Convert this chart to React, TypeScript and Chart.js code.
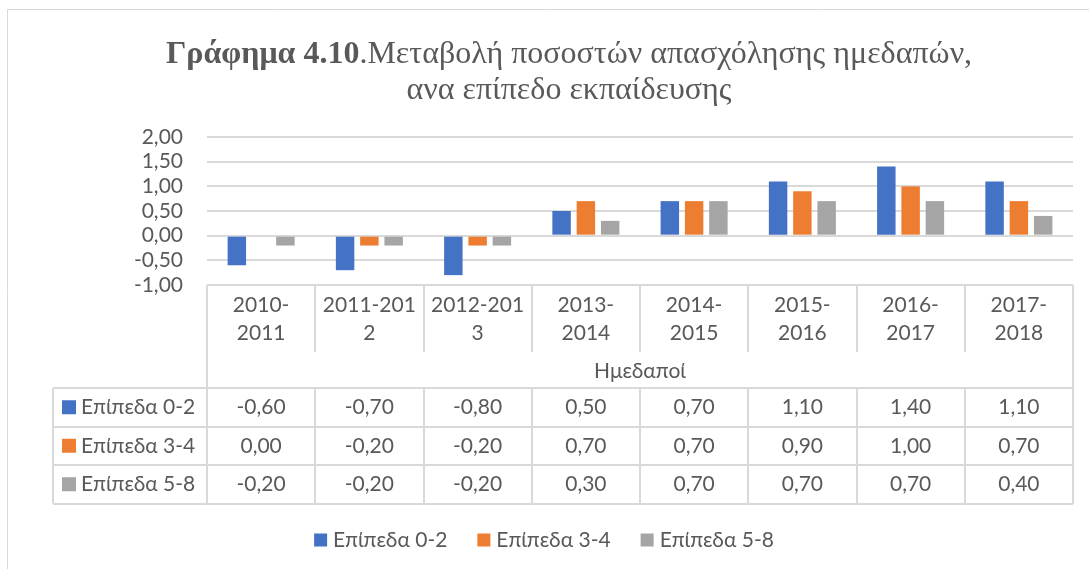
import { useEffect, useRef } from "react";
import { Chart, registerables } from "chart.js";

Chart.register(...registerables);

const categories: string[][] = [
  ["2010-", "2011"],
  ["2011-201", "2"],
  ["2012-201", "3"],
  ["2013-", "2014"],
  ["2014-", "2015"],
  ["2015-", "2016"],
  ["2016-", "2017"],
  ["2017-", "2018"],
];
const groupLabel = "Ημεδαποί";
const seriesNames = ["Επίπεδα 0-2", "Επίπεδα 3-4", "Επίπεδα 5-8"];
const level02 = [-0.6, -0.7, -0.8, 0.5, 0.7, 1.1, 1.4, 1.1];
const level34 = [0.0, -0.2, -0.2, 0.7, 0.7, 0.9, 1.0, 0.7];
const level58 = [-0.2, -0.2, -0.2, 0.3, 0.7, 0.7, 0.7, 0.4];
const seriesColors = ["#4472C4", "#ED7D31", "#A5A5A5"];
const yTickValues = [-1, -0.5, 0, 0.5, 1, 1.5, 2];
const titleBold = "Γράφημα 4.10";
const titleRest = ".Μεταβολή ποσοστών απασχόλησης ημεδαπών,";
const titleLine2 = "ανα επίπεδο εκπαίδευσης";

const TEXT = "#595959";
const GRID = "#D9D9D9";
const SANS = "Lato, 'Noto Sans', sans-serif";
const SERIF = "'Liberation Serif', 'DejaVu Serif', serif";
const SANS_SIZE = 21;

const fmt = (v: number) => v.toFixed(2).replace(".", ",");

const decorPlugin = {
  id: "decor",
  afterDraw(chart: any) {
    const ctx: CanvasRenderingContext2D = chart.ctx;
    const x = chart.scales.x;
    const y = chart.scales.y;
    const n = categories.length;
    const colW = (x.right - x.left) / n;
    const left = x.left;
    const right = x.right;
    const top = y.getPixelForValue(yTickValues[0]);
    const headerBottom = top + 67;
    const groupBottom = top + 103;
    const rowH = 38.5;
    const labelLeft = 53;
    const allSeries = [level02, level34, level58];

    ctx.save();
    // outer frame
    ctx.strokeStyle = GRID;
    ctx.lineWidth = 1;
    ctx.beginPath();
    ctx.moveTo(7.5, 569);
    ctx.lineTo(7.5, 9.5);
    ctx.lineTo(1089, 9.5);
    ctx.stroke();

    // title
    ctx.fillStyle = TEXT;
    ctx.textBaseline = "alphabetic";
    ctx.textAlign = "left";
    const fBold = `bold 32px ${SERIF}`;
    const fReg = `32px ${SERIF}`;
    ctx.font = fBold;
    const wb = ctx.measureText(titleBold).width;
    ctx.font = fReg;
    const wr = ctx.measureText(titleRest).width;
    const cx = 569;
    const sx = cx - (wb + wr) / 2;
    ctx.font = fBold;
    ctx.fillText(titleBold, sx, 63);
    ctx.font = fReg;
    ctx.fillText(titleRest, sx + wb, 63);
    ctx.textAlign = "center";
    ctx.fillText(titleLine2, cx, 99);

    // table lines
    ctx.strokeStyle = GRID;
    ctx.lineWidth = 2;
    ctx.beginPath();
    for (let i = 0; i <= n; i++) {
      const px = Math.round(x.getPixelForValue(i) - colW / 2);
      ctx.moveTo(px, top);
      ctx.lineTo(px, headerBottom);
      ctx.moveTo(px, groupBottom);
      ctx.lineTo(px, groupBottom + rowH * 3);
    }
    ctx.moveTo(Math.round(left), headerBottom);
    ctx.lineTo(Math.round(left), groupBottom);
    ctx.moveTo(Math.round(right), headerBottom);
    ctx.lineTo(Math.round(right), groupBottom);
    for (let r = 0; r <= 3; r++) {
      const py = Math.round(groupBottom + rowH * r);
      ctx.moveTo(labelLeft, py);
      ctx.lineTo(right, py);
    }
    ctx.moveTo(labelLeft, groupBottom);
    ctx.lineTo(labelLeft, groupBottom + rowH * 3);
    ctx.stroke();

    // header text
    ctx.fillStyle = TEXT;
    ctx.font = `${SANS_SIZE}px ${SANS}`;
    ctx.textAlign = "center";
    ctx.textBaseline = "middle";
    categories.forEach((lines, i) => {
      const px = x.getPixelForValue(i);
      ctx.fillText(lines[0], px, top + 20);
      ctx.fillText(lines[1], px, top + 48);
    });
    ctx.fillText(groupLabel, (left + right) / 2, (headerBottom + groupBottom) / 2 + 1);

    // rows
    allSeries.forEach((vals, r) => {
      const cy = groupBottom + rowH * r + rowH / 2;
      ctx.fillStyle = seriesColors[r];
      ctx.fillRect(62, cy - 7, 14, 14);
      ctx.fillStyle = TEXT;
      ctx.textAlign = "left";
      ctx.fillText(seriesNames[r], 81, cy);
      ctx.textAlign = "center";
      vals.forEach((v, i) => {
        ctx.fillText(fmt(v), x.getPixelForValue(i), cy);
      });
    });

    // legend
    const ly = 540;
    const sq = 13;
    const gapIn = 6;
    const gapOut = 30;
    const widths = seriesNames.map((s) => ctx.measureText(s).width);
    const total = widths.reduce((a, w) => a + sq + gapIn + w, 0) + gapOut * (seriesNames.length - 1);
    let lx = 544 - total / 2;
    ctx.textAlign = "left";
    seriesNames.forEach((s, i) => {
      ctx.fillStyle = seriesColors[i];
      ctx.fillRect(lx, ly - sq / 2, sq, sq);
      ctx.fillStyle = TEXT;
      ctx.fillText(s, lx + sq + gapIn, ly);
      lx += sq + gapIn + widths[i] + gapOut;
    });
    ctx.restore();
  },
};

export default function App() {
  const ref = useRef<HTMLCanvasElement | null>(null);
  useEffect(() => {
    if (!ref.current) return;
    const chart = new Chart(ref.current, {
      type: "bar",
      data: {
        labels: categories.map((c) => c.join("")),
        datasets: [level02, level34, level58].map((d, i) => ({
          label: seriesNames[i],
          data: d,
          backgroundColor: seriesColors[i],
          borderWidth: 0,
          categoryPercentage: 0.673,
          barPercentage: 0.76,
        })),
      },
      options: {
        responsive: false,
        animation: false,
        devicePixelRatio: 1,
        layout: { padding: { top: 137, left: 0, right: 16, bottom: 284 } },
        plugins: { legend: { display: false }, title: { display: false }, tooltip: { enabled: false } },
        scales: {
          x: { display: false },
          y: {
            min: yTickValues[0],
            max: yTickValues[yTickValues.length - 1],
            border: { display: false },
            grid: { color: GRID, lineWidth: 2, drawTicks: false },
            afterBuildTicks: (s: any) => {
              s.ticks = yTickValues.map((v) => ({ value: v }));
            },
            ticks: {
              autoSkip: false,
              padding: 24,
              color: TEXT,
              font: { family: SANS, size: SANS_SIZE, lineHeight: 1 },
              callback: (v: any) => fmt(Number(v)),
            },
            afterFit: (s: any) => {
              s.width = 207;
            },
          },
        },
      },
      plugins: [decorPlugin],
    });
    return () => chart.destroy();
  }, []);
  return (
    <div style={{ position: "fixed", left: 0, top: 0, width: 1089, height: 569, background: "#fff" }}>
      <canvas ref={ref} width={1089} height={569} style={{ display: "block" }} />
    </div>
  );
}
